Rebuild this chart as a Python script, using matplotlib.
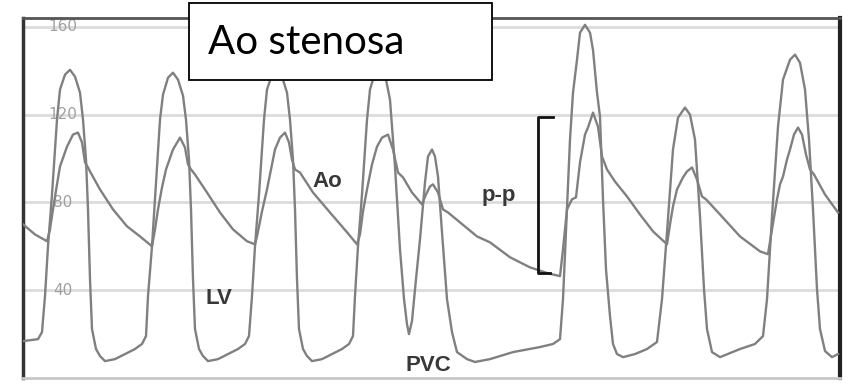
import numpy as np
import matplotlib
matplotlib.use("Agg")
import matplotlib.pyplot as plt
from matplotlib.patches import Rectangle

# time along the strip (arbitrary units), pressures in mmHg
lv_t = [23, 38, 42, 45, 48, 52, 57, 60, 65, 70, 75, 80, 83, 86, 88, 90, 92, 96, 100,
        105, 115, 125, 135, 142, 146,
        148, 152, 155, 160, 163, 168, 173, 178, 183, 186, 189, 191, 193, 195, 199,
        203, 208, 218, 228, 238, 245, 249,
        252, 255, 259, 264, 267, 272, 277, 282, 287, 290, 293, 295, 297, 299, 303,
        307, 312, 322, 332, 342, 349, 353,
        355, 358, 362, 367, 370, 375, 380, 385, 390, 395, 400, 404, 407, 409, 412,
        416, 420, 425, 428, 432, 435, 438, 442, 447, 452, 457, 467, 475, 490, 513,
        540, 553, 560,
        563, 567, 570, 573, 577, 580, 585, 590, 593, 597, 600, 603, 606, 610, 613,
        617, 623, 635, 647, 657,
        662, 667, 673, 678, 685, 690, 695, 700, 704, 707, 712, 720, 740, 755, 763,
        767, 772, 778, 783, 790, 795, 800, 805, 809, 813, 817, 820, 825, 832, 838]
lv_p = [16.8, 17.7, 20.9, 37.3, 60.0, 83.6, 117.7, 131.4, 138.2, 140.4, 137.3, 130.0,
        117.7, 99.5, 76.8, 45.0, 22.3, 13.2, 10.0, 7.7, 8.6, 10.9, 13.2, 15.5, 19.1,
        37.3, 60.0, 81.4, 117.7, 129.1, 136.8, 139.1, 135.9, 128.6, 117.7, 99.5,
        76.8, 45.0, 22.3, 13.2, 10.0, 7.7, 8.6, 10.9, 13.2, 15.5, 19.1,
        37.3, 60.0, 83.6, 117.7, 131.4, 138.2, 140.4, 137.3, 130.0, 117.7, 99.5,
        76.8, 45.0, 22.3, 13.2, 10.0, 7.7, 8.6, 10.9, 13.2, 15.5, 19.1,
        37.3, 60.0, 83.6, 117.7, 131.4, 139.1, 141.3, 138.2, 126.8, 96.4, 58.6,
        36.0, 24.5, 20.0, 26.0, 45.0, 63.2, 89.1, 100.9, 104.1, 100.9, 91.8, 66.4,
        35.9, 20.9, 11.8, 8.6, 7.3, 8.6, 11.8, 14.1, 15.5, 17.7,
        35.9, 76.8, 108.6, 130.0, 145.0, 157.3, 160.9, 157.3, 149.5, 130.0, 119.1,
        81.4, 49.5, 28.2, 15.5, 10.9, 9.5, 10.9, 13.2, 16.4,
        35.9, 66.4, 104.1, 118.6, 123.2, 120.0, 108.6, 73.6, 40.5, 22.3, 11.8, 9.5,
        13.2, 15.5, 19.1,
        35.9, 73.6, 114.5, 135.9, 145.0, 147.3, 143.6, 131.4, 108.6, 76.8, 40.5,
        22.3, 12.3, 9.5, 10.9]

ao_t = [23, 35, 47, 50, 53, 57, 60, 67, 73, 78, 82, 85, 88, 90, 100, 113, 127, 140,
        152,
        155, 158, 162, 166, 173, 180, 185, 188, 191, 195, 207, 220, 233, 247, 255,
        257, 262, 267, 271, 275, 280, 285, 289, 292, 295, 300, 313, 330, 347, 357,
        360, 363, 367, 372, 377, 382, 388, 393, 398, 403, 412, 422, 426, 430, 433,
        438, 443, 448, 460, 477, 490, 510, 530, 548, 560,
        563, 567, 572, 576, 580, 585, 588, 593, 598, 602, 607, 615, 627, 640, 653,
        667,
        670, 673, 677, 683, 687, 692, 697, 702, 706, 720, 740, 760, 768,
        772, 777, 780, 783, 787, 790, 794, 798, 802, 806, 810, 814, 825, 838]
ao_p = [70.0, 65.4, 62.3, 67.7, 76.8, 88.2, 96.4, 105.4, 110.9, 111.8, 107.3, 98.2,
        95.9, 94.1, 85.9, 76.8, 69.1, 64.5, 60.0,
        67.7, 76.8, 86.8, 95.0, 104.1, 109.5, 105.0, 97.3, 95.0, 92.7, 84.5, 75.4,
        67.7, 62.3, 60.9,
        64.5, 75.9, 85.9, 95.0, 104.1, 109.5, 111.8, 107.3, 99.5, 95.0, 93.6, 84.5,
        75.4, 66.4, 60.9,
        65.4, 75.9, 85.9, 97.3, 105.4, 109.5, 110.9, 104.1, 93.6, 91.4, 84.5, 79.1,
        83.6, 87.3, 88.2, 84.5, 76.8, 75.4, 70.9, 64.5, 61.8, 55.0, 50.4, 47.7, 46.4,
        58.6, 76.8, 81.4, 82.3, 98.2, 110.9, 114.1, 120.9, 114.5, 100.9, 95.0, 89.5,
        82.7, 74.5, 66.8, 60.9,
        70.0, 78.2, 85.9, 91.4, 94.1, 95.9, 90.4, 82.7, 81.4, 74.5, 64.5, 57.7, 56.4,
        67.7, 81.4, 88.2, 91.8, 99.5, 104.1, 110.9, 114.1, 110.9, 101.8, 95.0, 92.7,
        83.6, 75.4]

grid_levels = [40, 80, 120, 160]
pp_t = 538
pp_range = [47.7, 119.1]

fig = plt.figure(figsize=(8.57, 3.86), dpi=100)
ax = fig.add_axes([23 / 857, 8 / 386, 817 / 857, 360 / 386])
ax.set_xlim(23, 840)
ax.set_ylim(0, 164)

for g in grid_levels:
    ax.axhline(g, color="#dcdcdc", lw=2, zorder=0)
    ax.text(63, g, str(g), color="#a0a0a0", fontsize=11, ha="center", va="center",
            zorder=1)

trace = "#808080"
ax.plot(lv_t, lv_p, color=trace, lw=1.7, zorder=3, solid_joinstyle="round")
ax.plot(ao_t, ao_p, color=trace, lw=1.7, zorder=3, solid_joinstyle="round")

# p-p bracket
ax.plot([pp_t + 15, pp_t, pp_t, pp_t + 12],
        [pp_range[1], pp_range[1], pp_range[0], pp_range[0]],
        color="#111111", lw=2, zorder=4)

lab = dict(fontsize=16, fontweight="bold", color="#383838", ha="center",
           va="center", family="Liberation Sans", zorder=5)
ax.text(327, 89.5, "Ao", **lab)
ax.text(219, 36.4, "LV", **lab)
ax.text(499, 83.0, "p-p", **lab)
ax.text(428, 5.9, "PVC", **lab)

ax.set_xticks([])
ax.set_yticks([])
ax.spines["left"].set_color("#333333")
ax.spines["left"].set_linewidth(2.5)
ax.spines["right"].set_color("#222222")
ax.spines["right"].set_linewidth(3)
ax.spines["top"].set_color("#555555")
ax.spines["top"].set_linewidth(2)
ax.spines["bottom"].set_color("#c8c8c8")
ax.spines["bottom"].set_linewidth(2)

# title box
fig.patches.append(Rectangle((189 / 857, 1 - 80 / 386), 303 / 857, 77 / 386,
                             transform=fig.transFigure, facecolor="white",
                             edgecolor="black", lw=1.3, zorder=10))
fig.text(208 / 857, 1 - 43 / 386, "Ao stenosa", family="Lato", fontsize=29,
         color="black", ha="left", va="center", zorder=11)

fig.savefig("out.png", dpi=100)
